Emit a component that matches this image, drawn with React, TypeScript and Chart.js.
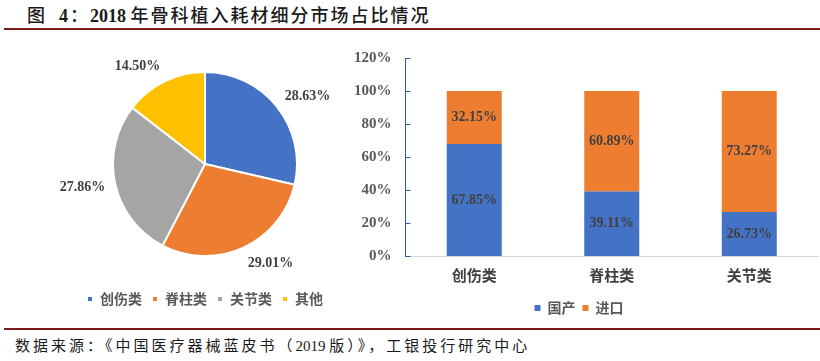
import React, { useEffect, useRef } from "react";
import { Chart, registerables } from "chart.js";

Chart.register(...registerables);

const pieLabels = ["创伤类", "脊柱类", "关节类", "其他"];
const pieValues = [28.63, 29.01, 27.86, 14.5];
const pieColors = ["#4472C4", "#ED7D31", "#A5A5A5", "#FFC000"];

const barCategories = ["创伤类", "脊柱类", "关节类"];
const domesticValues = [67.85, 39.11, 26.73];
const importValues = [32.15, 60.89, 73.27];
const yTicks = [0, 20, 40, 60, 80, 100, 120];

const SERIF = "'Liberation Serif', 'Noto Sans CJK SC', serif";
const CJK = "'Noto Sans CJK SC', sans-serif";
const LABEL_COLOR = "#404040";

const pieLabelPlugin = {
  id: "pieOutsideLabels",
  afterDatasetsDraw(chart: any) {
    const ctx = chart.ctx;
    const meta = chart.getDatasetMeta(0);
    ctx.save();
    ctx.font = `bold 14px ${SERIF}`;
    ctx.fillStyle = LABEL_COLOR;
    ctx.textAlign = "center";
    ctx.textBaseline = "middle";
    meta.data.forEach((arc: any, i: number) => {
      const p = arc.getProps(["x", "y", "startAngle", "endAngle", "outerRadius"], true);
      const mid = (p.startAngle + p.endAngle) / 2;
      const dx = Math.cos(mid);
      const dy = Math.sin(mid);
      const gap = 10;
      const px = p.x + dx * (p.outerRadius + gap);
      const py = p.y + dy * (p.outerRadius + gap);
      const text = pieValues[i].toFixed(2) + "%";
      const w = ctx.measureText(text).width;
      const h = 14;
      const cx = px + Math.sign(dx) * w / 2;
      const cy = py + dy * h / 2;
      ctx.fillText(text, cx, cy);
    });
    ctx.restore();
  },
};

const barLabelPlugin = {
  id: "barInsideLabels",
  afterDatasetsDraw(chart: any) {
    const ctx = chart.ctx;
    ctx.save();
    ctx.font = `bold 14px ${SERIF}`;
    ctx.fillStyle = LABEL_COLOR;
    ctx.textAlign = "center";
    ctx.textBaseline = "middle";
    chart.data.datasets.forEach((ds: any, di: number) => {
      const meta = chart.getDatasetMeta(di);
      meta.data.forEach((bar: any, i: number) => {
        const p = bar.getProps(["x", "y", "base"], true);
        ctx.fillText(ds.data[i].toFixed(2) + "%", p.x, (p.y + p.base) / 2);
      });
    });
    ctx.restore();
  },
};

const yInnerTicksPlugin = {
  id: "yInnerTicks",
  afterDraw(chart: any) {
    const ctx = chart.ctx;
    const y = chart.scales.y;
    ctx.save();
    ctx.strokeStyle = "#2E5E9E";
    ctx.lineWidth = 1;
    y.ticks.forEach((_t: any, i: number) => {
      const py = Math.round(y.getPixelForTick(i)) + 0.5;
      ctx.beginPath();
      ctx.moveTo(y.right, py);
      ctx.lineTo(y.right + 5, py);
      ctx.stroke();
    });
    ctx.restore();
  },
};

function PieChart() {
  const ref = useRef<HTMLCanvasElement>(null);
  useEffect(() => {
    const chart = new Chart(ref.current as HTMLCanvasElement, {
      type: "pie",
      data: {
        labels: pieLabels,
        datasets: [
          {
            data: pieValues,
            backgroundColor: pieColors,
            borderColor: "#ffffff",
            borderWidth: 2,
          },
        ],
      },
      options: {
        responsive: false,
        animation: false,
        layout: { padding: { top: 36, bottom: 0, left: 0, right: 0 } },
        plugins: {
          tooltip: { enabled: false },
          legend: {
            position: "bottom",
            title: { display: true, text: "", font: { size: 10 }, padding: { top: 13, bottom: 0 } },
            labels: {
              boxWidth: 6,
              boxHeight: 6,
              padding: 10,
              color: "#595959",
              font: { family: CJK, size: 14, weight: "bold" },
            },
          },
        },
      },
      plugins: [pieLabelPlugin],
    } as any);
    return () => chart.destroy();
  }, []);
  return <canvas ref={ref} width={410} height={281} style={{ display: "block" }} />;
}

function BarChart() {
  const ref = useRef<HTMLCanvasElement>(null);
  useEffect(() => {
    const chart = new Chart(ref.current as HTMLCanvasElement, {
      type: "bar",
      data: {
        labels: barCategories,
        datasets: [
          { label: "国产", data: domesticValues, backgroundColor: "#4472C4" },
          { label: "进口", data: importValues, backgroundColor: "#ED7D31" },
        ],
      },
      options: {
        responsive: false,
        animation: false,
        layout: { padding: { top: 18, right: 2, left: 0, bottom: 0 } },
        datasets: { bar: { categoryPercentage: 1, barPercentage: 0.4 } },
        scales: {
          x: {
            stacked: true,
            grid: { display: false, drawTicks: false },
            border: { display: true, color: "#D9D9D9", width: 1 },
            ticks: {
              padding: 10,
              color: LABEL_COLOR,
              font: { family: CJK, size: 15, weight: "bold" },
            },
          },
          y: {
            stacked: true,
            min: 0,
            max: 120,
            afterBuildTicks: (scale: any) => {
              scale.ticks = yTicks.map((v) => ({ value: v }));
            },
            grid: { display: false, drawTicks: false },
            border: { display: true, color: "#2E5E9E", width: 1 },
            ticks: {
              padding: 14,
              color: "#595959",
              font: { family: SERIF, size: 15, weight: "bold" },
              callback: (v: any) => v + "%",
            },
          },
        },
        plugins: {
          tooltip: { enabled: false },
          legend: {
            position: "bottom",
            labels: {
              boxWidth: 6,
              boxHeight: 6,
              padding: 7,
              color: "#595959",
              font: { family: CJK, size: 14, weight: "bold" },
            },
          },
        },
      },
      plugins: [barLabelPlugin, yInnerTicksPlugin],
    } as any);
    return () => chart.destroy();
  }, []);
  return <canvas ref={ref} width={480} height={290} style={{ display: "block" }} />;
}

export default function App() {
  const cjkTitle = { fontFamily: CJK, fontWeight: 500, letterSpacing: "2px" } as const;
  return (
    <div
      style={{
        position: "absolute",
        left: 0,
        top: 0,
        width: 820,
        height: 361,
        background: "#ffffff",
        overflow: "hidden",
      }}
    >
      <div
        style={{
          position: "absolute",
          left: 27,
          top: 2,
          fontFamily: SERIF,
          fontWeight: "bold",
          fontSize: 18,
          lineHeight: "24px",
          color: "#1a1a1a",
          whiteSpace: "pre",
        }}
      >
        <span style={cjkTitle}>图  </span>
        <span style={{ letterSpacing: "2px" }}>4</span>
        <span style={cjkTitle}>：</span>
        <span>2018 </span>
        <span style={cjkTitle}>年骨科植入耗材细分市场占比情况</span>
      </div>
      <div style={{ position: "absolute", left: 4, top: 28, width: 816, height: 2, background: "#7B1A1A" }} />
      <div style={{ position: "absolute", left: 0, top: 35 }}>
        <PieChart />
      </div>
      <div style={{ position: "absolute", left: 340, top: 35 }}>
        <BarChart />
      </div>
      <div style={{ position: "absolute", left: 4, top: 328, width: 816, height: 2, background: "#7B1A1A" }} />
      <div
        style={{
          position: "absolute",
          left: 15,
          top: 335,
          fontFamily: CJK,
          fontSize: 15,
          lineHeight: "20px",
          color: "#1a1a1a",
          whiteSpace: "pre",
        }}
      >
        <span style={{ letterSpacing: "3px" }}>数据来源：《中国医疗器械蓝皮书（</span>
        <span style={{ fontFamily: SERIF }}>2019 </span>
        <span style={{ letterSpacing: "3px" }}>版）》，工银投行研究中心</span>
      </div>
    </div>
  );
}
